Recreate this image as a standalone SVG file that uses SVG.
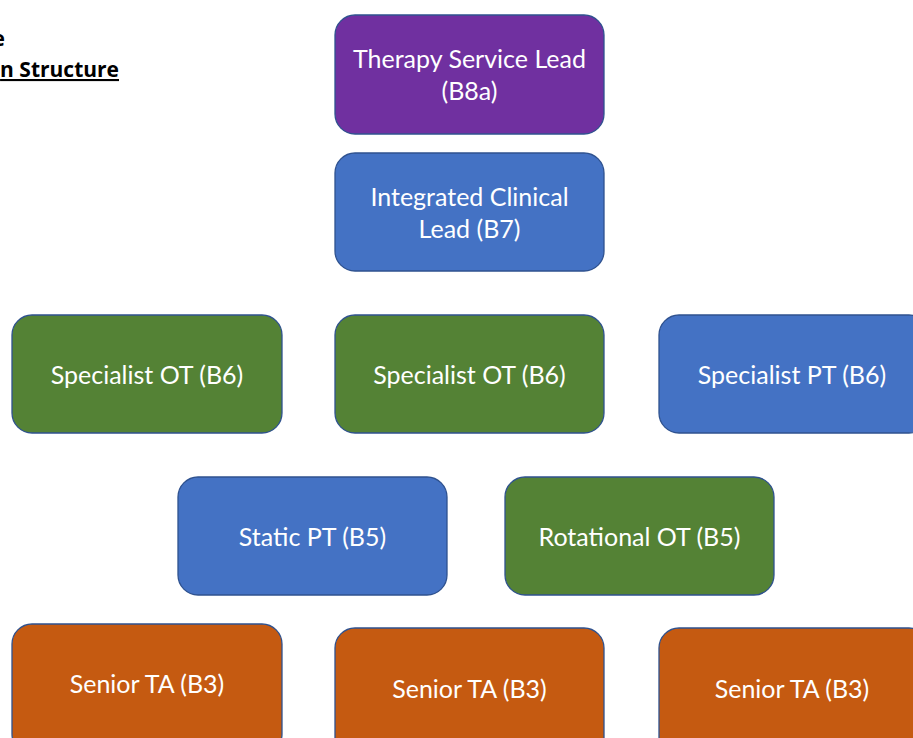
<svg xmlns="http://www.w3.org/2000/svg" width="913" height="738" viewBox="0 0 913 738">
<style>
.box{stroke:#2F528F;stroke-width:1.3}
.purple{fill:#7030A0}
.blue{fill:#4472C4}
.green{fill:#548235}
.orange{fill:#C55A11}
.lbl{font-family:Lato,"Open Sans","Liberation Sans",sans-serif;font-size:25px;fill:#FFFFFF;text-anchor:middle;dominant-baseline:central}
.title{font-family:"Open Sans","Liberation Sans",sans-serif;font-size:21px;font-weight:bold;fill:#000000;text-anchor:end;text-decoration:underline}
</style>
<rect width="913" height="738" fill="#FFFFFF"/>
<g id="title">
<text class="title" x="5" y="46" style="text-decoration:none">e</text>
<text class="title" x="119" y="77">n Structure</text>
</g>
<g id="connectors"></g>
<g id="n-therapy-lead">
<rect class="box purple" x="335" y="15" width="269" height="119" rx="20"/>
<text class="lbl" x="469.5" y="58">Therapy Service Lead</text>
<text class="lbl" x="469.5" y="90">(B8a)</text>
</g>
<g id="n-integrated">
<rect class="box blue" x="335" y="153" width="269" height="118" rx="20"/>
<text class="lbl" x="469.5" y="196">Integrated Clinical</text>
<text class="lbl" x="469.5" y="228">Lead (B7)</text>
</g>
<g id="n-spec-ot-1">
<rect class="box green" x="12" y="315" width="270" height="118" rx="20"/>
<text class="lbl" x="147" y="374">Specialist OT (B6)</text>
</g>
<g id="n-spec-ot-2">
<rect class="box green" x="335" y="315" width="269" height="118" rx="20"/>
<text class="lbl" x="469.5" y="374">Specialist OT (B6)</text>
</g>
<g id="n-spec-pt">
<rect class="box blue" x="659" y="315" width="270" height="118" rx="20"/>
<text class="lbl" x="792" y="374">Specialist PT (B6)</text>
</g>
<g id="n-static-pt">
<rect class="box blue" x="178" y="477" width="269" height="118" rx="20"/>
<text class="lbl" x="312.5" y="536">Static PT (B5)</text>
</g>
<g id="n-rot-ot">
<rect class="box green" x="505" y="477" width="269" height="118" rx="20"/>
<text class="lbl" x="639.5" y="536">Rotational OT (B5)</text>
</g>
<g id="n-ta-1">
<rect class="box orange" x="12" y="624" width="270" height="130" rx="20"/>
<text class="lbl" x="147" y="683">Senior TA (B3)</text>
</g>
<g id="n-ta-2">
<rect class="box orange" x="335" y="628" width="269" height="130" rx="20"/>
<text class="lbl" x="469.5" y="688">Senior TA (B3)</text>
</g>
<g id="n-ta-3">
<rect class="box orange" x="659" y="628" width="270" height="130" rx="20"/>
<text class="lbl" x="792" y="688">Senior TA (B3)</text>
</g>
</svg>
